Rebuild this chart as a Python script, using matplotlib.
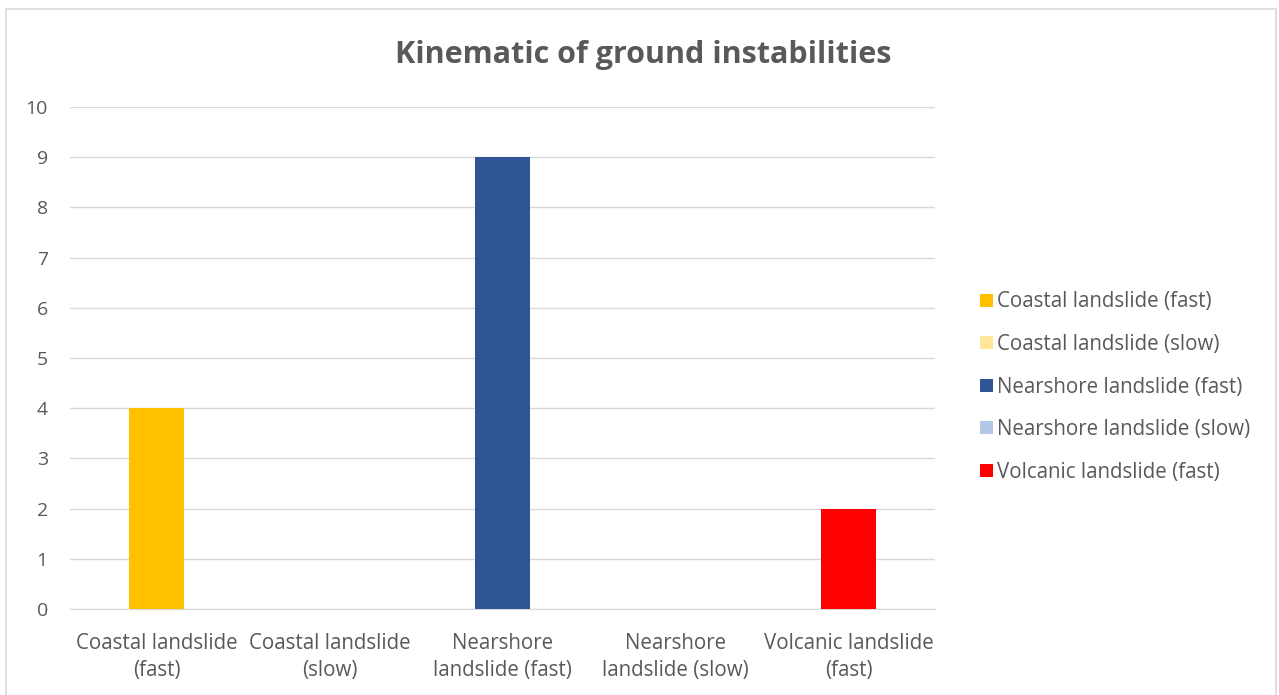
import matplotlib
matplotlib.use("Agg")
import matplotlib.pyplot as plt
from matplotlib.patches import Patch, Rectangle

categories = ["Coastal landslide\n(fast)", "Coastal landslide\n(slow)", "Nearshore\nlandslide (fast)",
              "Nearshore\nlandslide (slow)", "Volcanic landslide\n(fast)"]
series_names = ["Coastal landslide (fast)", "Coastal landslide (slow)", "Nearshore landslide (fast)",
                "Nearshore landslide (slow)", "Volcanic landslide (fast)"]
values = [4, 0, 9, 0, 2]
colors = ["#FFC000", "#FFE699", "#2F5597", "#B4C7E7", "#FF0000"]
yticks = list(range(0, 11))

plt.rcParams['font.family'] = ['Open Sans', 'DejaVu Sans']
TXT = "#595959"

fig = plt.figure(figsize=(12.79, 6.95), dpi=100)
W, H = 1279, 695
ax = fig.add_axes([70 / W, 1 - 609 / H, (935 - 70) / W, (609 - 107) / H])

x = list(range(len(categories)))
ax.bar(x, values, width=0.32, color=colors, zorder=3)
ax.set_xlim(-0.5, 4.5)
ax.set_ylim(0, 10)
ax.set_yticks(yticks)
ax.set_xticks(x)
ax.set_xticklabels(categories, linespacing=1.4)
ax.yaxis.grid(True, color="#D9D9D9", linewidth=1, zorder=0)
for s in ["top", "right", "left"]:
    ax.spines[s].set_visible(False)
ax.spines["bottom"].set_color("#D9D9D9")
ax.tick_params(axis="y", length=0, labelsize=14, colors=TXT, pad=16)
ax.tick_params(axis="x", length=0, labelsize=14.8, colors=TXT, pad=17)

fig.text(643 / W, 1 - 55 / H, "Kinematic of ground instabilities", ha="center", va="center",
         fontsize=22, fontweight="bold", color=TXT)

handles = [Patch(facecolor=c, edgecolor="none") for c in colors]
leg = fig.legend(handles, series_names, loc="center left", bbox_to_anchor=(972 / W, 1 - 387 / H),
                 frameon=False, fontsize=14.8, handlelength=0.6, handleheight=0.6,
                 handletextpad=0.22, labelspacing=1.05, borderaxespad=0)
for t in leg.get_texts():
    t.set_color(TXT)

fig.patches.append(Rectangle((6 / W, -0.01), (1276 - 6) / W, 1 - 9 / H + 0.01, transform=fig.transFigure,
                             fill=False, edgecolor="#D9D9D9", linewidth=1.2))

fig.savefig("out.png", dpi=100, facecolor="white")
